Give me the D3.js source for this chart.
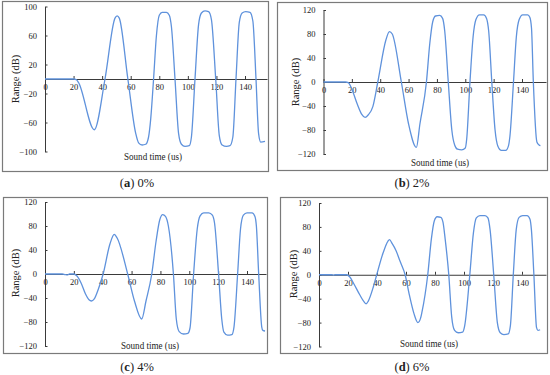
<!DOCTYPE html>
<html>
<head>
<meta charset="utf-8">
<script src="https://cdn.jsdelivr.net/npm/d3@7/dist/d3.min.js"></script>
<style>
  body { margin: 0; background: #fff; }
  svg text { font-family: "Liberation Serif", "Times New Roman", "DejaVu Serif", serif !important; fill: #222; }
</style>
</head>
<body>
<svg id="chart" width="550" height="375"></svg>
<script>
"use strict";

// sound time (us) / range (dB)
var timeA  = [0, 20, 22, 23.5, 34.5, 42, 49, 50.5, 52, 58, 63.5, 65.5, 68, 70.5, 72.5, 74, 76, 78, 80, 82, 85, 87, 88.5, 91, 93.5, 95.5, 98, 101, 102.5, 105, 107.5, 109.5, 112, 114.5, 116.5, 119.5, 122, 124, 127, 129.5, 131.5, 133.7, 136, 138, 140.5, 143.5, 145.5, 147.7, 149.5, 151, 154];
var rangeA = [0, 0, -1, -5, -70, 0, 84, 87, 84, 0, -75, -88, -91, -90, -80, -55, 0, 60, 88, 92, 92, 88, 72, 0, -75, -90, -93, -92, -80, 0, 75, 91, 94, 93, 82, 0, -78, -91, -93, -92, -80, 0, 78, 91, 93, 92, 80, 0, -75, -87, -86];

var timeB  = [0, 15.5, 17.5, 20, 24, 27, 29.3, 31.5, 34.8, 38.3, 44, 46.5, 48.5, 54.9, 60, 65.5, 68, 72.6, 75, 77, 79, 82, 84, 85.5, 88, 90.5, 92.5, 94.5, 97.5, 100, 101, 103.3, 105.5, 107.5, 110, 113, 115, 116.5, 118.7, 121, 123, 125.5, 128.5, 130.5, 131.5, 134, 136, 138, 140.5, 144, 145.5, 146.7, 148, 150.5, 152, 153];
var rangeB = [0, 0, -1, -12, -38, -54, -59, -55, -41, 0, 70, 84, 80, 0, -70, -109, -70, 0, 65, 100, 110, 111, 106, 85, 0, -80, -105, -112, -113, -110, -95, 0, 75, 104, 112, 112, 106, 85, 0, -80, -107, -114, -114, -106, -90, 0, 75, 104, 112, 112, 108, 90, 0, -100, -105, -106];

var timeC  = [0, 12, 14, 15.5, 17, 20, 22, 25, 28, 30.5, 32.2, 34, 37, 40.3, 45, 48, 50, 57.3, 62, 67, 70, 74, 77, 79.5, 81.6, 83.5, 85.5, 89, 91, 93, 96, 99, 100.5, 103, 105.5, 107.5, 110, 113.5, 116, 117.5, 120.3, 122.5, 124, 126.5, 129.5, 131, 133.5, 135.5, 137.5, 140, 143.5, 145.5, 146.5, 148.1, 150.2, 151, 152.5];
var rangeC = [0, 0, -1, -1.5, 0, 0, -3, -15, -33, -43, -45, -42, -25, 0, 50, 66, 60, 0, -45, -75, -45, 0, 55, 90, 99, 96, 80, 0, -75, -96, -100, -99, -90, 0, 75, 97, 102, 102, 98, 85, 0, -75, -97, -102, -101, -88, 0, 75, 98, 102, 102, 96, 80, 0, -88, -94, -95];

var timeD  = [0, 9, 10, 11, 19, 21, 24, 28, 31, 32.5, 34, 37.5, 39.8, 44, 47.5, 48.6, 50.5, 53, 56, 59.4, 62.4, 65.5, 68.2, 70, 71, 75, 77.5, 79.5, 81.5, 84, 85.5, 87, 89.5, 91.5, 93.5, 96, 99, 100.5, 104, 106.5, 108.5, 111, 114.5, 116.5, 118, 120.5, 123, 125, 127.5, 130.5, 132, 134, 136, 138, 140.5, 143.5, 145.5, 146.5, 148.2, 150, 151, 152.5];
var rangeD = [0, 0, -1, 0, 0, -3, -15, -33, -45, -48.5, -44, -20, 0, 35, 56, 58.6, 52, 41, 22, 0, -34.6, -65, -80, -73, -62.5, 0, 60, 90, 97, 96, 88, 60, 0, -70, -93, -97, -96, -85, 0, 70, 95, 99, 99, 95, 75, 0, -80, -97, -100, -99, -85, 0, 75, 96, 99, 99, 93, 75, 0, -88, -93, -92];

var xTicks  = [0, 20, 40, 60, 80, 100, 120, 140];
var yTicks100 = [-100, -60, -20, 20, 60, 100];
var yTicks120 = [-120, -80, -40, 0, 40, 80, 120];
var panelTags = ["a", "b", "c", "d"];
var panelLabels = ["0%", "2%", "4%", "6%"];

var serif = "'Liberation Serif', 'Times New Roman', 'DejaVu Serif', serif";

// layout of each panel (pixels)
var panels = [
    { t: timeA, r: rangeA, yMax: 100, yTicks: yTicks100,
      frame: [2, 1, 268, 171], x0: 45, x140: 245, yTop: 6.5, yBot: 151.5,
      yTitle: [15, 79], xTitle: [153, 160], caption: [137, 187] },
    { t: timeB, r: rangeB, yMax: 120, yTicks: yTicks120,
      frame: [277, 2, 547, 170], x0: 323.5, x140: 522, yTop: 10, yBot: 154,
      yTitle: [295, 82], xTitle: [440, 166], caption: [412, 187] },
    { t: timeC, r: rangeC, yMax: 120, yTicks: yTicks120,
      frame: [3, 197, 267, 353], x0: 45, x140: 247, yTop: 202, yBot: 346,
      yTitle: [15, 273], xTitle: [150, 349], caption: [137, 371] },
    { t: timeD, r: rangeD, yMax: 120, yTicks: yTicks120,
      frame: [280, 197, 547, 353], x0: 319, x140: 522, yTop: 203, yBot: 346.5,
      yTitle: [293, 274], xTitle: [429, 347], caption: [412, 371] }
];

var svg = d3.select("#chart");

panels.forEach(function(p, i) {
    var f = p.frame;
    var g = svg.append("g");

    g.append("rect")
        .attr("x", f[0] + 0.5).attr("y", f[1] + 0.5)
        .attr("width", f[2] - f[0]).attr("height", f[3] - f[1])
        .attr("fill", "none").attr("stroke", "#7a7a7a").attr("stroke-width", 1.2);

    var xEnd = f[2] - 1;
    var xMax = (xEnd - p.x0) / (p.x140 - p.x0) * 140;
    var x = d3.scaleLinear().domain([0, xMax]).range([p.x0, xEnd]);
    var y = d3.scaleLinear().domain([-p.yMax, p.yMax]).range([p.yBot, p.yTop]);

    // y axis
    var ya = g.append("g")
        .attr("transform", "translate(" + p.x0 + ",0)")
        .call(d3.axisLeft(y).tickValues(p.yTicks).tickSizeInner(-2.5).tickSizeOuter(0).tickPadding(8));

    // x axis on the zero line
    var xa = g.append("g")
        .attr("transform", "translate(0," + y(0) + ")")
        .call(d3.axisBottom(x).tickValues(xTicks).tickSizeInner(-3).tickSizeOuter(0).tickPadding(5));

    [ya, xa].forEach(function(a) {
        a.attr("font-family", null);
        a.selectAll("path, line").attr("stroke", "#3a3a3a").attr("stroke-width", 1);
        a.selectAll("text").style("font-size", "8.5px")
            .style("font-family", serif).attr("fill", "#222");
    });

    var pts = p.t.map(function(d, k) { return [d, p.r[k]]; });
    var line = d3.line()
        .x(function(d) { return x(d[0]); })
        .y(function(d) { return y(d[1]); })
        .curve(d3.curveMonotoneX);

    g.append("path")
        .datum(pts)
        .attr("d", line)
        .attr("fill", "none")
        .attr("stroke", "#5f92dc")
        .attr("stroke-width", 1.3)
        .attr("stroke-linejoin", "round");

    g.append("text")
        .attr("transform", "translate(" + p.yTitle[0] + "," + p.yTitle[1] + ") rotate(-90)")
        .attr("text-anchor", "middle")
        .attr("dy", "0.35em")
        .style("font-family", serif)
        .style("font-size", "10.5px")
        .text("Range (dB)");

    g.append("text")
        .attr("x", p.xTitle[0]).attr("y", p.xTitle[1])
        .attr("text-anchor", "middle")
        .attr("textLength", 58)
        .attr("lengthAdjust", "spacingAndGlyphs")
        .style("font-family", serif)
        .style("font-size", "10.5px")
        .text("Sound time (us)");

    var cap = g.append("text")
        .attr("x", p.caption[0]).attr("y", p.caption[1])
        .attr("text-anchor", "middle")
        .style("font-family", serif)
        .style("font-size", "12.5px");
    cap.append("tspan").text("(");
    cap.append("tspan").attr("font-weight", "bold").text(panelTags[i]);
    cap.append("tspan").text(") " + panelLabels[i]);
});
</script>
</body>
</html>
